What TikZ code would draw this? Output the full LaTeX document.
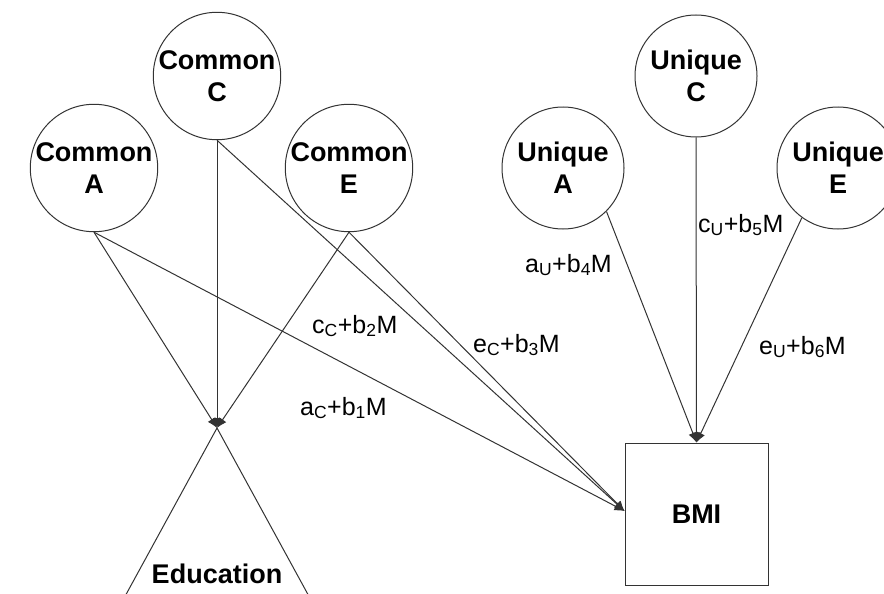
\documentclass[tikz,border=0pt]{standalone}
\usepackage{fontspec}
\setmainfont{Liberation Sans}
\usetikzlibrary{arrows.meta, positioning}
\tikzset{
    circlenode/.style = {circle, draw=black!80, line width=1pt, inner sep=0em, node distance=0em,
      minimum size=122pt, align=center, font=\fontsize{27}{32}\selectfont\bfseries},
    boxnode/.style = {draw=black!80, rectangle, line width=1pt, inner sep=0em, node distance=0em,
      minimum width=143pt, minimum height=142pt, font=\fontsize{27}{32}\selectfont\bfseries},
    boldtextnode/.style = {draw=none, fill=none, inner sep=0em, font=\fontsize{27}{32}\selectfont\bfseries},
    textnode/.style = {draw=none, fill=none, inner sep=0em, anchor=base west, font=\fontsize{25}{30}\selectfont},
    shapeline/.style = {black!80, line width=1pt},
    connect/.style = {black!80, line width=1pt, -{Latex[length=10pt, width=9pt]}}
}

\begin{document}
\begin{tikzpicture}[x=1pt, y=-1pt]
\useasboundingbox (0,0) rectangle (884,594);
\clip (0,0) rectangle (884,594);

% common factors
\node [circlenode, name=cc] at (217,76) {Common\\C};
\node [circlenode, name=ca, below of = cc, xshift=-123pt, yshift=-92pt] {Common\\A};
\node [circlenode, name=ce, right of = ca, xshift=255pt] {Common\\E};

% unique factors
\node [circlenode, name=uc] at (696,76) {Unique\\C};
\node [circlenode, name=ua, below of = uc, xshift=-133pt, yshift=-92pt] {Unique\\A};
\node [circlenode, name=ue, right of = ua, xshift=275pt] {Unique\\E};

% outcomes
\node [boxnode, name=bmi] at (696.5,514) {BMI};
\coordinate (edutop) at (217,428);
\draw [shapeline] (edutop) -- ++(-94,172);
\draw [shapeline] (edutop) -- ++(94,172);
\node [boldtextnode, name=edu] at (217,574) {Education};
\coordinate (bmiin) at ([yshift=3pt]bmi.west);

\draw (ca.south) edge[connect] (edutop);
\draw (cc.south) edge[connect] (edutop);
\draw (ce.south) edge[connect] (edutop);

\draw (ca.south) edge[connect] (bmiin);
\draw (cc.south) edge[connect] (bmiin);
\draw (ce.south) edge[connect] (bmiin);

\draw (ua.-45) edge[connect] (bmi.north);
\draw (uc.south) edge[connect] (bmi.north);
\draw (ue.-126) edge[connect] (bmi.north);

% path labels
\node [textnode, name=lcc] at (312,333) {c\textsubscript{C}+b\textsubscript{2}M};
\node [textnode, name=lce] at (473,352) {e\textsubscript{C}+b\textsubscript{3}M};
\node [textnode, name=lca] at (300,415) {a\textsubscript{C}+b\textsubscript{1}M};
\node [textnode, name=lua] at (525,272) {a\textsubscript{U}+b\textsubscript{4}M};
\node [textnode, name=luc] at (698,232) {c\textsubscript{U}+b\textsubscript{5}M};
\node [textnode, name=lue] at (759,354) {e\textsubscript{U}+b\textsubscript{6}M};
\end{tikzpicture}
\end{document}
